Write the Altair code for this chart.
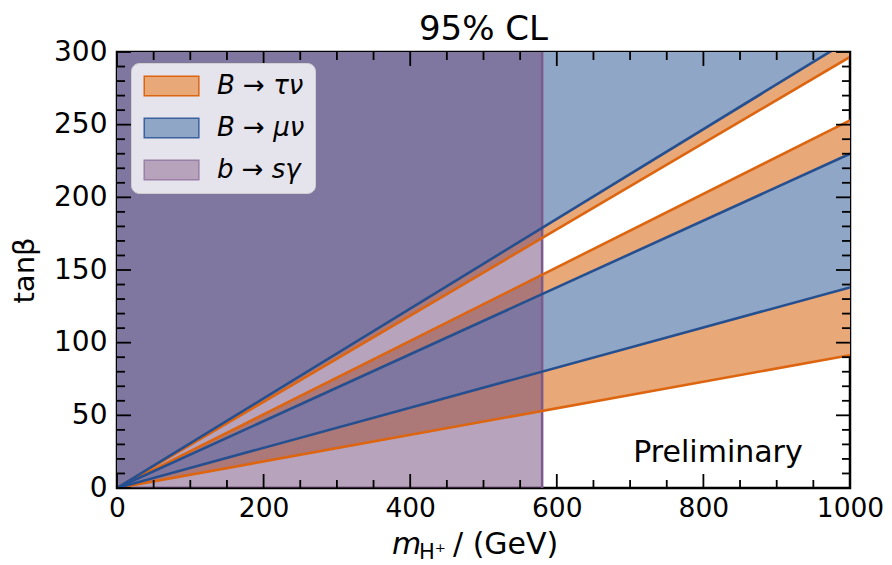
import altair as alt
import pandas as pd

# ---- data ----
x_ends = [0, 1000]
tau_lower = [0, 91.4]
tau_middle = [0, 253.0]
tau_upper = [0, 296.6]
mu_lower = [0, 138.0]
mu_middle = [0, 230.0]
mu_upper = [0, 308.6]
plot_ceiling = [400, 400]
bsg_mass_limit = 580
x_domain = [0, 1000]
y_domain = [0, 300]

legend_labels = ["B → τν", "B → μν", "b → sγ"]
legend_fills = ["#e8a877", "#8fa6c6", "#b7a3bc"]
legend_strokes = ["#dd6510", "#3a62a0", "#9a7fa6"]

x_major = [0, 200, 400, 600, 800, 1000]
x_minor = [50, 100, 150, 250, 300, 350, 450, 500, 550, 650, 700, 750, 850, 900, 950]
y_major = [0, 50, 100, 150, 200, 250, 300]
y_minor = [10, 20, 30, 40, 60, 70, 80, 90, 110, 120, 130, 140, 160, 170, 180, 190,
           210, 220, 230, 240, 260, 270, 280, 290]

W, H = 733, 436
ORANGE_FILL, ORANGE_LINE = "#e8a877", "#dd6510"
BLUE_FILL, BLUE_LINE = "#8fa6c6", "#254f8f"
PURPLE_FILL, PURPLE_LINE = "#6f4779", "#7d5a8c"
FONT = "DejaVu Sans"

xs = alt.Scale(domain=x_domain, nice=False, zero=False)
ys = alt.Scale(domain=y_domain, nice=False, zero=False)
x_axis = alt.Axis(values=x_major, title=None, format="d", labelPadding=7, labelFlush=False,
                  labelFontSize=26.5)
y_axis = alt.Axis(values=y_major, title="tanβ", format="d", labelPadding=10,
                  titlePadding=14, labelFlush=False)


def X(f):
    return alt.X(f, type="quantitative", scale=xs, axis=x_axis)


def Y(f):
    return alt.Y(f, type="quantitative", scale=ys, axis=y_axis)


# bands
def bands(lows, highs, name):
    rows = []
    for i, (lo, hi) in enumerate(zip(lows, highs)):
        for x, a, b in zip(x_ends, lo, hi):
            rows.append({"x": x, "lo": a, "hi": b, "band": f"{name}{i}"})
    return pd.DataFrame(rows)


tau_bands = bands([tau_lower, tau_upper], [tau_middle, plot_ceiling], "tau")
mu_bands = bands([mu_lower, mu_upper], [mu_middle, plot_ceiling], "mu")


def lines(series, name):
    rows = []
    for i, s in enumerate(series):
        for x, y in zip(x_ends, s):
            rows.append({"x": x, "y": y, "line": f"{name}{i}"})
    return pd.DataFrame(rows)


tau_lines = lines([tau_lower, tau_middle, tau_upper], "tau")
mu_lines = lines([mu_lower, mu_middle, mu_upper], "mu")

legend_df = pd.DataFrame({"label": legend_labels, "x": [0] * 3, "y": [0] * 3})

legend = alt.Legend(
    title=None, orient="none", legendX=14, legendY=11,
    symbolType="M-1,-1H4.6V1H-1Z", symbolSize=380,
    symbolStrokeWidth=1.5, symbolOpacity=1,
    labelFont=FONT, labelFontSize=26, labelFontStyle="italic", labelColor="black",
    labelOffset=50, rowPadding=16, padding=10,
    fillColor="#e5e3eb", strokeColor="#cfcfcf", cornerRadius=8,
)

legend_layer = alt.Chart(legend_df).mark_rect(clip=True).encode(
    x=X("x"), x2="x", y=Y("y"), y2="y",
    fill=alt.Fill("label:N", scale=alt.Scale(domain=legend_labels, range=legend_fills),
                  legend=legend, sort=legend_labels),
    stroke=alt.Stroke("label:N", scale=alt.Scale(domain=legend_labels, range=legend_strokes),
                      legend=legend, sort=legend_labels),
)

tau_area = alt.Chart(tau_bands).mark_area(color=ORANGE_FILL, clip=True).encode(
    x=X("x"), y=Y("lo"), y2="hi", detail="band:N")
mu_area = alt.Chart(mu_bands).mark_area(color=BLUE_FILL, clip=True).encode(
    x=X("x"), y=Y("lo"), y2="hi", detail="band:N")

bsg_df = pd.DataFrame({"x": [x_domain[0]], "x2": [bsg_mass_limit],
                       "y": [y_domain[0]], "y2": [y_domain[1]]})
bsg_rect = alt.Chart(bsg_df).mark_rect(color=PURPLE_FILL, opacity=0.5).encode(
    x=X("x"), x2="x2", y=Y("y"), y2="y2")
bsg_rule = alt.Chart(pd.DataFrame({"x": [bsg_mass_limit]})).mark_rule(
    color=PURPLE_LINE, strokeWidth=2.5).encode(x=X("x"))

tau_line = alt.Chart(tau_lines).mark_line(color=ORANGE_LINE, strokeWidth=2.6, clip=True).encode(
    x=X("x"), y=Y("y"), detail="line:N")
mu_line = alt.Chart(mu_lines).mark_line(color=BLUE_LINE, strokeWidth=2.6, clip=True).encode(
    x=X("x"), y=Y("y"), detail="line:N")


# inward ticks on all four sides
def xticks(vals, length):
    d = pd.DataFrame({"v": vals})
    bottom = alt.Chart(d).mark_rule(color="black", strokeWidth=1.8).encode(
        x=X("v"), y=alt.value(H), y2=alt.value(H - length))
    top = alt.Chart(d).mark_rule(color="black", strokeWidth=1.8).encode(
        x=X("v"), y=alt.value(0), y2=alt.value(length))
    return [bottom, top]


def yticks(vals, length):
    d = pd.DataFrame({"v": vals})
    left = alt.Chart(d).mark_rule(color="black", strokeWidth=1.8).encode(
        y=Y("v"), x=alt.value(0), x2=alt.value(length))
    right = alt.Chart(d).mark_rule(color="black", strokeWidth=1.8).encode(
        y=Y("v"), x=alt.value(W), x2=alt.value(W - length))
    return [left, right]


ticks = xticks(x_major, 14) + xticks(x_minor, 8) + yticks(y_major, 14) + yticks(y_minor, 8)


def label(text, x, y, size, style="normal", align="left"):
    return alt.Chart(pd.DataFrame({"t": [text]})).mark_text(
        font=FONT, fontSize=size, fontStyle=style, align=align, baseline="alphabetic",
        color="black").encode(x=alt.value(x), y=alt.value(y), text="t:N")


title = label("95% CL", W / 2, -12, 34, align="center")
prelim = label("Preliminary", 601, 410, 30, align="center")
# x axis title  m_{H+} / (GeV)
xt_m = label("m", 275, 502, 30, style="italic")
xt_h = label("H⁺", 302, 507, 21)
xt_rest = label("/ (GeV)", 336, 502, 30)

chart = alt.layer(
    legend_layer, tau_area, mu_area, bsg_rect, bsg_rule, tau_line, mu_line,
    *ticks, prelim, title, xt_m, xt_h, xt_rest,
).properties(
    width=W, height=H,
    autosize=alt.AutoSizeParams(type="none"),
    padding={"left": 109, "top": 44, "right": 34, "bottom": 77},
).configure_view(
    stroke="black", strokeWidth=2.5
).configure_axis(
    grid=False, ticks=False, domain=False,
    labelFont=FONT, labelFontSize=28, labelColor="black",
    titleFont=FONT, titleFontSize=29, titleFontWeight="normal", titleColor="black",
)

chart.save("out.html", embed_options={"renderer": "svg", "actions": False})
